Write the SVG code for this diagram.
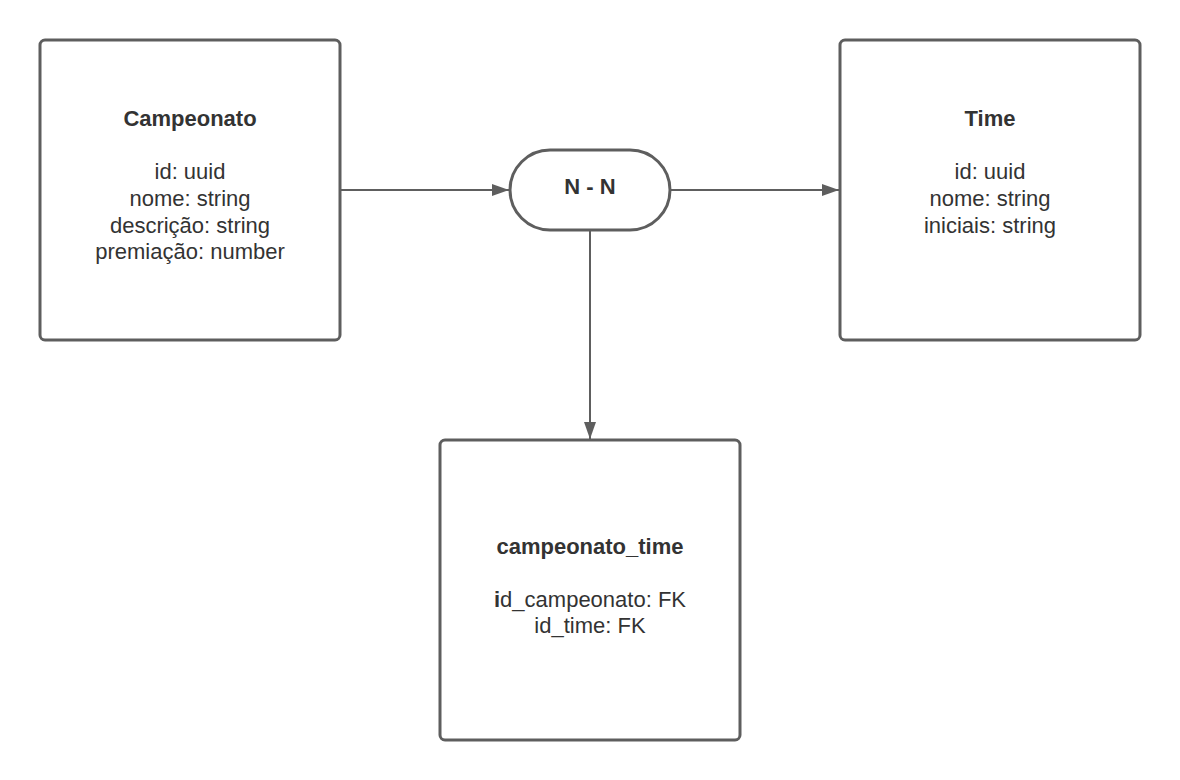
<svg xmlns="http://www.w3.org/2000/svg" width="1180" height="780" viewBox="0 0 1180 780">
  <defs>
    <marker id="arrow" viewBox="0 0 17 12" refX="17" refY="6" markerWidth="17" markerHeight="12" markerUnits="userSpaceOnUse" orient="auto">
      <path d="M0,0 L17,6 L0,12 Z" fill="#5e5e5e"/>
    </marker>
    <style>
      .box { fill: #ffffff; stroke: #5e5e5e; stroke-width: 3; }
      .edge { fill: none; stroke: #5e5e5e; stroke-width: 2; }
      text { font-family: "Liberation Sans", Arial, sans-serif; fill: #333333; text-anchor: middle; font-size: 22px; }
      .title { font-weight: bold; }
    </style>
  </defs>
  <rect width="1180" height="780" fill="#ffffff"/>

  <g id="connectors">
    <line class="edge" x1="340" y1="190" x2="509" y2="190" marker-end="url(#arrow)"/>
    <line class="edge" x1="670" y1="190" x2="839" y2="190" marker-end="url(#arrow)"/>
    <line class="edge" x1="590" y1="230" x2="590" y2="439" marker-end="url(#arrow)"/>
  </g>

  <g id="campeonato">
    <rect class="box" x="40" y="40" width="300" height="300" rx="5"/>
    <text class="title" x="190" y="126">Campeonato</text>
    <text x="190" y="179">id: uuid</text>
    <text x="190" y="206">nome: string</text>
    <text x="190" y="232.5">descrição: string</text>
    <text x="190" y="259">premiação: number</text>
  </g>

  <g id="relacao">
    <rect class="box" x="510" y="150" width="160" height="80" rx="40"/>
    <text class="title" x="590" y="194">N - N</text>
  </g>

  <g id="time">
    <rect class="box" x="840" y="40" width="300" height="300" rx="5"/>
    <text class="title" x="990" y="126">Time</text>
    <text x="990" y="179">id: uuid</text>
    <text x="990" y="206">nome: string</text>
    <text x="990" y="232.5">iniciais: string</text>
  </g>

  <g id="campeonato_time">
    <rect class="box" x="440" y="440" width="300" height="300" rx="5"/>
    <text class="title" x="590" y="554">campeonato_time</text>
    <text x="590" y="606.5"><tspan font-weight="bold">i</tspan>d_campeonato: FK</text>
    <text x="590" y="633">id_time: FK</text>
  </g>
</svg>
